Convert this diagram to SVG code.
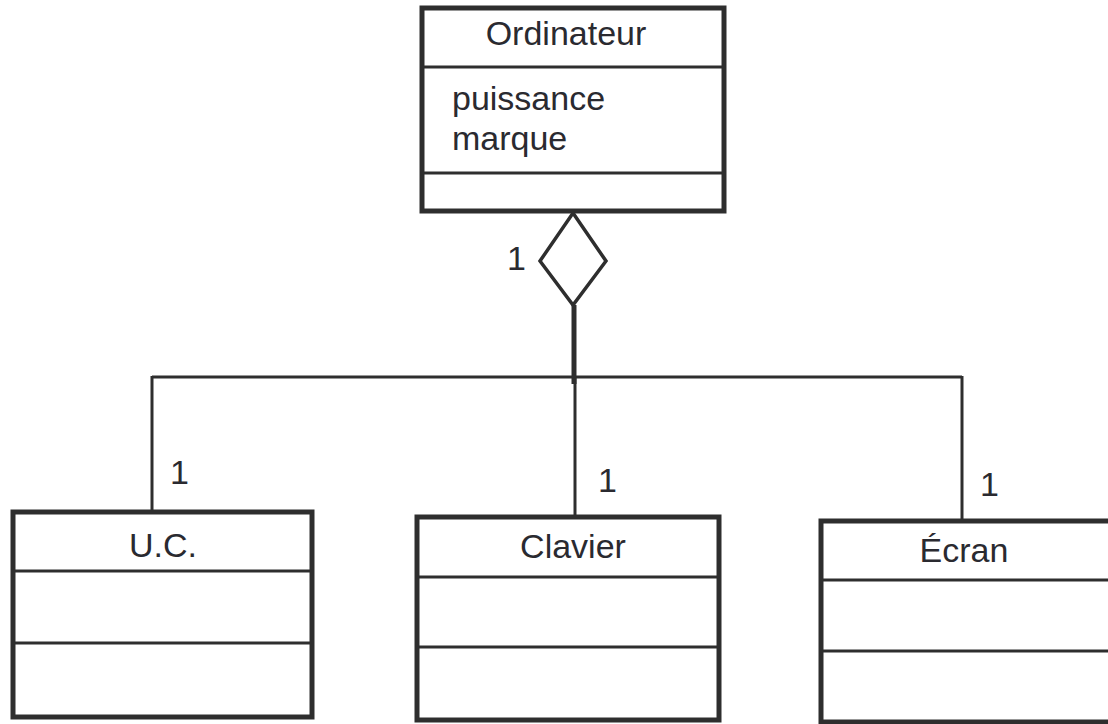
<svg xmlns="http://www.w3.org/2000/svg" width="1108" height="724" viewBox="0 0 1108 724">
  <style>
    .box { fill: #ffffff; stroke: #2e2e2e; stroke-width: 5; }
    .sep { stroke: #2e2e2e; stroke-width: 3; fill: none; }
    .link { stroke: #2e2e2e; stroke-width: 3; fill: none; }
    .strong { stroke: #2e2e2e; stroke-width: 5; fill: none; }
    .diamond { fill: #ffffff; stroke: #2e2e2e; stroke-width: 3.5; stroke-linejoin: miter; }
    .label { font-family: "Liberation Sans", Arial, sans-serif; font-size: 34px; fill: #2a2a30; }
    .mid { text-anchor: middle; }
  </style>
  <rect width="1108" height="724" fill="#ffffff"/>

  <!-- connectors: aggregation tree -->
  <g id="connectors">
    <line class="link" x1="152" y1="377" x2="962" y2="377"/>
    <line class="link" x1="152" y1="376" x2="152" y2="512"/>
    <line class="link" x1="575" y1="377" x2="575" y2="517"/>
    <line class="link" x1="962" y1="376" x2="962" y2="521"/>
    <line class="strong" x1="574" y1="305" x2="574" y2="384"/>
    <polygon class="diamond" points="573,213 606,261 573,305 540,261"/>
    <text class="label" x="507" y="270">1</text>
    <text class="label" x="170" y="484">1</text>
    <text class="label" x="598" y="492">1</text>
    <text class="label" x="980" y="496">1</text>
  </g>

  <!-- class Ordinateur -->
  <g id="ordinateur">
    <rect class="box" x="422" y="8" width="302" height="203"/>
    <line class="sep" x1="422" y1="67" x2="724" y2="67"/>
    <line class="sep" x1="422" y1="173" x2="724" y2="173"/>
    <text class="label mid" x="566" y="45">Ordinateur</text>
    <text class="label" x="452" y="110">puissance</text>
    <text class="label" x="452" y="150">marque</text>
  </g>

  <!-- class U.C. -->
  <g id="uc">
    <rect class="box" x="13" y="512" width="299" height="205"/>
    <line class="sep" x1="13" y1="571" x2="312" y2="571"/>
    <line class="sep" x1="13" y1="643" x2="312" y2="643"/>
    <text class="label mid" x="163" y="557">U.C.</text>
  </g>

  <!-- class Clavier -->
  <g id="clavier">
    <rect class="box" x="417" y="517" width="302" height="203"/>
    <line class="sep" x1="417" y1="577" x2="719" y2="577"/>
    <line class="sep" x1="417" y1="647" x2="719" y2="647"/>
    <text class="label mid" x="573" y="558">Clavier</text>
  </g>

  <!-- class Écran -->
  <g id="ecran">
    <rect class="box" x="821" y="521" width="300" height="201"/>
    <line class="sep" x1="821" y1="580" x2="1121" y2="580"/>
    <line class="sep" x1="821" y1="651" x2="1121" y2="651"/>
    <text class="label mid" x="964" y="562">Écran</text>
  </g>
</svg>
